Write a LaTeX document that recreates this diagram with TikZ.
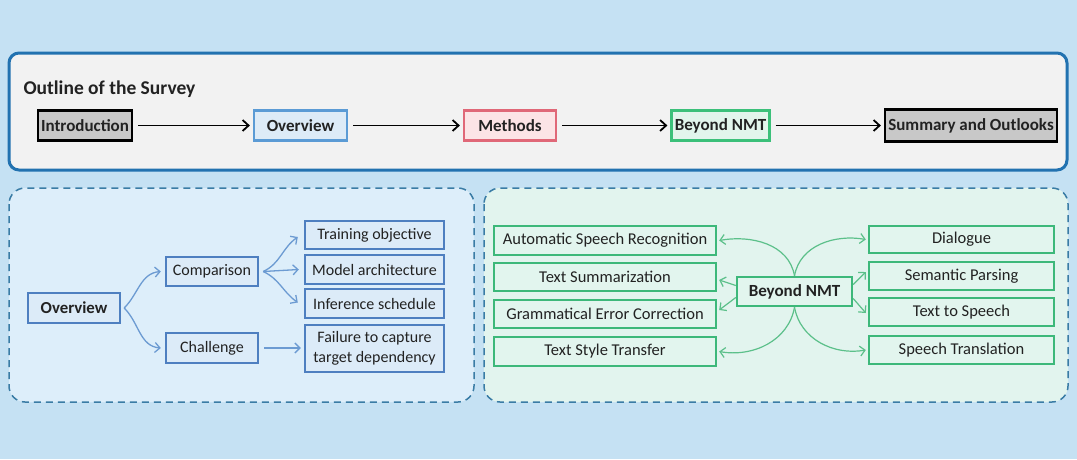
\documentclass[tikz,border=0pt]{standalone}
\usepackage{fontspec}
\setmainfont{Carlito}
\usetikzlibrary{arrows.meta}
\definecolor{bgblue}{HTML}{C5E1F3}
\definecolor{panelgray}{HTML}{F2F2F2}
\definecolor{panelborder}{HTML}{2272B0}
\definecolor{dashborder}{HTML}{3A7CA5}
\definecolor{leftfill}{HTML}{DDEEFA}
\definecolor{rightfill}{HTML}{E2F4EE}
\definecolor{bluebox}{HTML}{4E7FC0}
\definecolor{blueboxfill}{HTML}{DCEBF8}
\definecolor{greenbox}{HTML}{3DB87A}
\definecolor{greenboxfill}{HTML}{E2F5EE}
\definecolor{bluearrow}{HTML}{6C9BD2}
\definecolor{greenarrow}{HTML}{5CC08A}
\definecolor{graybox}{HTML}{C8C8C8}
\definecolor{ovfill}{HTML}{DDEBF7}
\definecolor{ovborder}{HTML}{5B9BD5}
\definecolor{methfill}{HTML}{FCE4E6}
\definecolor{methborder}{HTML}{E06878}
\definecolor{bnfill}{HTML}{E2F5EC}
\definecolor{bnborder}{HTML}{3CC07A}
\definecolor{txt}{HTML}{222222}
\tikzset{
  topbox/.style={draw, line width=2.2pt, inner sep=0pt, text=txt,
    font=\fontsize{17}{19}\selectfont\bfseries},
  lbox/.style={draw=bluebox, fill=blueboxfill, line width=2.4pt, inner sep=0pt, text=txt,
    font=\fontsize{16}{17}\selectfont, align=center},
  rbox/.style={draw=greenbox, fill=greenboxfill, line width=2.4pt, inner sep=0pt, text=txt,
    font=\fontsize{16.5}{18}\selectfont},
  blackarrow/.style={draw=black, line width=1.8pt, -{Straight Barb[length=6pt,width=11pt,line width=1.8pt]}},
  barrow/.style={draw=bluearrow, line width=1.3pt, -{Straight Barb[length=5pt,width=10pt,line width=1.3pt]}},
  garrow/.style={draw=greenarrow, line width=1.2pt, -{Straight Barb[length=5pt,width=10pt,line width=1.2pt]}},
  dashpanel/.style={draw=dashborder, line width=1.5pt, dash pattern=on 7pt off 5pt, rounded corners=16pt},
}
\begin{document}
\begin{tikzpicture}[x=1pt,y=-1pt]
\fill[bgblue] (0,0) rectangle (1077,459);
\useasboundingbox (0,0) rectangle (1077,459);
% top panel
\draw[panelborder, fill=panelgray, line width=3pt, rounded corners=10pt] (9,53) rectangle (1067,170);
\node[anchor=west, text=txt, font=\fontsize{19.5}{21}\selectfont\bfseries] (title) at (20,89) {Outline of the Survey};
\node[topbox, draw=black, fill=graybox, minimum width=94pt, minimum height=30pt] (intro) at (85,125.5) {Introduction};
\node[topbox, draw=ovborder, fill=ovfill, minimum width=93pt, minimum height=30pt] (ov) at (300.5,125.5) {Overview};
\node[topbox, draw=methborder, fill=methfill, minimum width=92pt, minimum height=30pt] (meth) at (510,125.5) {Methods};
\node[topbox, draw=bnborder, fill=bnfill, minimum width=98pt, minimum height=30pt] (bn) at (720.5,125.5) {Beyond NMT};
\node[topbox, draw=black, fill=graybox, minimum width=172pt, minimum height=32pt] (summ) at (971,125.5) {Summary and Outlooks};
\draw[blackarrow] ([xshift=5pt]intro.east) -- ([xshift=-3pt]ov.west);
\draw[blackarrow] ([xshift=5pt]ov.east) -- ([xshift=-3pt]meth.west);
\draw[blackarrow] ([xshift=5pt]meth.east) -- ([xshift=-3pt]bn.west);
\draw[blackarrow] ([xshift=5pt]bn.east) -- ([xshift=-3pt]summ.west);
% lower panels
\draw[dashpanel, fill=leftfill] (9,188) rectangle (474,402);
\draw[dashpanel, fill=rightfill] (484,188) rectangle (1068,402);
% left tree
\node[lbox, font=\fontsize{16.8}{18}\selectfont\bfseries, minimum width=92pt, minimum height=30pt] (lov) at (74,308) {Overview};
\node[lbox, minimum width=92pt, minimum height=29pt] (comp) at (212,271.5) {Comparison};
\node[lbox, minimum width=92pt, minimum height=30pt] (chal) at (212,348) {Challenge};
\node[lbox, minimum width=139pt, minimum height=28pt] (train) at (374.5,235) {Training objective};
\node[lbox, minimum width=139pt, minimum height=29pt] (model) at (374.5,269.5) {Model architecture};
\node[lbox, minimum width=139pt, minimum height=29pt] (infer) at (374.5,303.5) {Inference schedule};
\node[lbox, minimum width=139pt, minimum height=47pt, font=\fontsize{16}{20}\selectfont] (fail) at (374.5,348.5) {Failure to capture\\target dependency};
\draw[barrow] ([xshift=3pt]lov.east) to[out=45,in=185] ([xshift=-4pt]comp.west);
\draw[barrow] ([xshift=3pt]lov.east) to[out=-45,in=175] ([xshift=-4pt]chal.west);
\draw[barrow] ([xshift=4pt]comp.east) to[out=25,in=215] ([xshift=-6pt,yshift=-2pt]train.west);
\draw[barrow] ([xshift=4pt]comp.east) -- ([xshift=-5pt]model.west);
\draw[barrow] ([xshift=4pt]comp.east) to[out=-25,in=145] ([xshift=-6pt,yshift=1pt]infer.west);
\draw[barrow] ([xshift=5pt]chal.east) -- ([xshift=-3pt]chal.east -| fail.west);
% right tree
\node[rbox, font=\fontsize{17}{18}\selectfont\bfseries, minimum width=115pt, minimum height=29pt] (rbn) at (794.5,291.5) {Beyond NMT};
\node[rbox, minimum width=222pt, minimum height=29pt] (asr) at (605,240.5) {Automatic Speech Recognition};
\node[rbox, minimum width=222pt, minimum height=28pt] (ts) at (605,277) {Text Summarization};
\node[rbox, minimum width=222pt, minimum height=28pt] (gec) at (605,314) {Grammatical Error Correction};
\node[rbox, minimum width=222pt, minimum height=29pt] (tst) at (605,351.5) {Text Style Transfer};
\node[rbox, minimum width=185pt, minimum height=27pt] (dia) at (961.5,239.5) {Dialogue};
\node[rbox, minimum width=185pt, minimum height=28pt] (sp) at (961.5,276) {Semantic Parsing};
\node[rbox, minimum width=185pt, minimum height=28pt] (tts) at (961.5,312) {Text to Speech};
\node[rbox, minimum width=185pt, minimum height=28pt] (st) at (961.5,350) {Speech Translation};
\draw[garrow] (rbn.north) to[out=100,in=10] ([xshift=2pt]asr.east);
\draw[garrow] (rbn.north) to[out=80,in=170] ([xshift=-2pt]dia.west);
\draw[garrow] ([yshift=6pt]rbn.west) -- ([xshift=2pt,yshift=-3pt]ts.east);
\draw[garrow] ([yshift=-6pt]rbn.west) -- ([xshift=2pt,yshift=4pt]gec.east);
\draw[garrow] ([yshift=7pt]rbn.east) -- ([xshift=-2pt,yshift=4pt]sp.west);
\draw[garrow] ([yshift=-7pt]rbn.east) -- ([xshift=-2pt,yshift=-1pt]tts.west);
\draw[garrow] (rbn.south) to[out=-100,in=-10] ([xshift=2pt]tst.east);
\draw[garrow] (rbn.south) to[out=-80,in=190] ([xshift=-2pt]st.west);
\end{tikzpicture}
\end{document}
